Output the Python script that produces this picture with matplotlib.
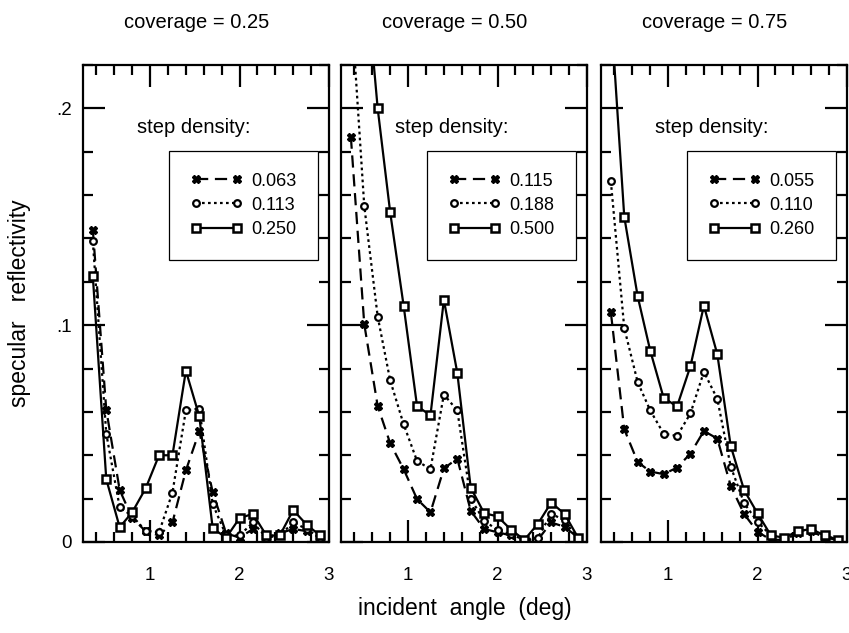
import matplotlib
matplotlib.use("Agg")
import matplotlib.pyplot as plt
from matplotlib.ticker import MultipleLocator, FixedLocator, FixedFormatter

plt.rcParams['font.family'] = ['Liberation Sans', 'DejaVu Sans']

angle = [0.36, 0.51, 0.66, 0.80, 0.95, 1.10, 1.25, 1.40, 1.55, 1.70,
         1.85, 2.00, 2.15, 2.30, 2.45, 2.60, 2.75, 2.90]

coverages = ["coverage = 0.25", "coverage = 0.50", "coverage = 0.75"]
step_labels = [["0.063", "0.113", "0.250"],
               ["0.115", "0.188", "0.500"],
               ["0.055", "0.110", "0.260"]]

# coverage 0.25
c25_low = [0.144, 0.061, 0.024, 0.011, 0.005, 0.003, 0.009, 0.033, 0.051, 0.023,
           0.004, 0.002, 0.006, 0.002, 0.004, 0.006, 0.005, 0.002]
c25_mid = [0.1386, 0.050, 0.016, 0.012, 0.0052, 0.0045, 0.0228, 0.0607, 0.0615, 0.0175,
           0.003, 0.003, 0.009, 0.002, 0.003, 0.009, 0.006, 0.002]
c25_high = [0.1225, 0.029, 0.0068, 0.0137, 0.0247, 0.040, 0.040, 0.079, 0.058, 0.0063,
            0.002, 0.011, 0.013, 0.003, 0.003, 0.0147, 0.008, 0.003]

# coverage 0.50
c50_low = [0.187, 0.1005, 0.0627, 0.0455, 0.0336, 0.0198, 0.0137, 0.0339, 0.0385, 0.0144,
           0.006, 0.0045, 0.003, 0.001, 0.001, 0.009, 0.007, 0.002]
c50_mid = [0.25, 0.155, 0.104, 0.0745, 0.0543, 0.0374, 0.0336, 0.068, 0.0607, 0.020,
           0.0098, 0.0055, 0.0035, 0.001, 0.002, 0.013, 0.010, 0.001]
c50_high = [0.34, 0.27, 0.200, 0.152, 0.109, 0.0627, 0.0584, 0.1117, 0.078, 0.0251,
            0.0133, 0.0118, 0.0057, 0.001, 0.0083, 0.0182, 0.0129, 0.002]

# coverage 0.75
c75_low = [0.106, 0.052, 0.0369, 0.0325, 0.0313, 0.0343, 0.0408, 0.0512, 0.0477, 0.0259,
           0.0129, 0.0047, 0.001, 0.001, 0.004, 0.005, 0.002, 0.001]
c75_mid = [0.1664, 0.0987, 0.0737, 0.0607, 0.050, 0.0489, 0.0593, 0.0785, 0.066, 0.0348,
           0.0179, 0.0093, 0.003, 0.002, 0.005, 0.006, 0.003, 0.001]
c75_high = [0.245, 0.150, 0.1133, 0.0883, 0.0665, 0.0625, 0.0811, 0.109, 0.0866, 0.0443,
            0.0239, 0.0132, 0.003, 0.002, 0.005, 0.006, 0.003, 0.001]

panels = [(c25_low, c25_mid, c25_high),
          (c50_low, c50_mid, c50_high),
          (c75_low, c75_mid, c75_high)]

W, H = 849, 633
fig = plt.figure(figsize=(W / 100, H / 100), dpi=100)

lefts = [83, 341, 601]
ax_w = 246
top, bottom = 65, 542

styles = [dict(ls=(0, (5.5, 3)), marker='X', ms=6, mfc='black', mec='black', mew=1.0),
          dict(ls=(0, (1.2, 1.5)), marker='o', ms=4.8, mfc='white', mec='black', mew=1.6),
          dict(ls='-', marker='s', ms=5.2, mfc='white', mec='black', mew=1.8)]

for i, (lft, series) in enumerate(zip(lefts, panels)):
    ax = fig.add_axes([lft / W, 1 - bottom / H, ax_w / W, (bottom - top) / H])
    for s, lab, st in zip(series, step_labels[i], styles):
        ax.plot(angle, s, color='black', lw=1.6, label=lab, **st)
    ax.set_xlim(0.25, 3.0)
    ax.set_ylim(0, 0.22)
    ax.xaxis.set_major_locator(FixedLocator([1, 2, 3]))
    ax.xaxis.set_major_formatter(FixedFormatter(['1', '2', '3']))
    ax.xaxis.set_minor_locator(MultipleLocator(0.2))
    ax.yaxis.set_major_locator(FixedLocator([0, 0.1, 0.2]))
    ax.yaxis.set_minor_locator(MultipleLocator(0.02))
    if i == 0:
        ax.yaxis.set_major_formatter(FixedFormatter(['0', '.1', '.2']))
    else:
        ax.yaxis.set_major_formatter(FixedFormatter(['', '', '']))
    ax.tick_params(which='both', direction='in', top=True, right=True,
                   width=1.6, labelsize=13.5)
    ax.tick_params(which='major', length=16)
    ax.tick_params(axis='x', which='major', pad=18)
    ax.tick_params(axis='y', which='major', pad=8)
    ax.tick_params(which='minor', length=7)
    for sp in ax.spines.values():
        sp.set_linewidth(1.6)
    ax.text(0.46, 1 + 43 / 477, coverages[i], transform=ax.transAxes,
            fontsize=14.5, ha='center', va='center')
    ax.text(0.22, 0.87, "step density:", transform=ax.transAxes,
            fontsize=14.5, ha='left', va='center')
    leg = ax.legend(loc='upper right', bbox_to_anchor=(0.955, 0.82),
                    numpoints=2, fontsize=13, handlelength=2.9,
                    handletextpad=0.45, borderpad=1.2, labelspacing=0.4,
                    fancybox=False, framealpha=1, edgecolor='black',
                    borderaxespad=0.0)
    leg.get_frame().set_linewidth(0.9)

fig.text(465 / W, 1 - 608 / H, "incident  angle  (deg)", fontsize=16.5,
         ha='center', va='center')
fig.text(20 / W, 1 - 303 / H, "specular   reflectivity", fontsize=16.5,
         ha='center', va='center', rotation=90)

fig.savefig("out.png", dpi=100)
